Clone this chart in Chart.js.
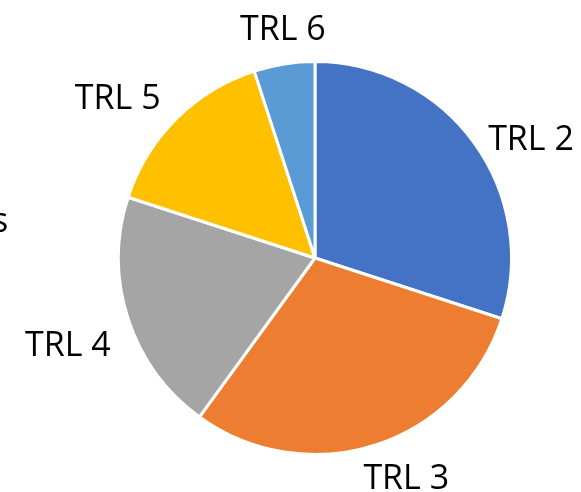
<!DOCTYPE html>
<html>
<head>
<meta charset="utf-8">
<script src="https://cdn.jsdelivr.net/npm/chart.js@4/dist/chart.umd.min.js"></script>
<style>
  html, body { margin: 0; padding: 0; background: #ffffff; }
  #wrap { width: 581px; height: 492px; position: relative; }
</style>
</head>
<body>
<div id="wrap"><canvas id="chart"></canvas></div>
<script>
// Data (share of each slice, %)
const labels = ['TRL 2', 'TRL 3', 'TRL 4', 'TRL 5', 'TRL 6'];
const values = [30, 30, 20, 15, 5];
const colors = ['#4472C4', '#ED7D31', '#A5A5A5', '#FFC000', '#5B9BD5'];
// partly clipped text at the left edge of the picture
const edgeText = 's';

const labelFont = '34px "Open Sans", sans-serif';

// Draw category labels outside the end of each slice
const outsideLabels = {
    id: 'outsideLabels',
    afterDatasetsDraw(chart, args, opts) {
        const ctx = chart.ctx;
        const meta = chart.getDatasetMeta(0);
        const nudge = opts.nudge || [];
        ctx.save();
        ctx.font = labelFont;
        ctx.fillStyle = '#000000';
        ctx.textAlign = 'center';
        ctx.textBaseline = 'middle';
        meta.data.forEach((arc, i) => {
            const { x, y, startAngle, endAngle, outerRadius } = arc.getProps(['x', 'y', 'startAngle', 'endAngle', 'outerRadius'], true);
            const mid = (startAngle + endAngle) / 2;
            const w = ctx.measureText(labels[i]).width;
            const h = 28;
            const cos = Math.cos(mid), sin = Math.sin(mid);
            const d = outerRadius + 14 + Math.abs(cos) * w / 2 + Math.abs(sin) * h / 2;
            const [dx, dy] = nudge[i] || [0, 0];
            ctx.fillText(labels[i], x + cos * d + dx, y + sin * d + dy);
        });
        // clipped text on the left edge
        ctx.textAlign = 'left';
        ctx.fillText(edgeText, -8, 222);
        ctx.restore();
    }
};

new Chart(document.getElementById('chart'), {
    type: 'pie',
    data: {
        labels: labels,
        datasets: [{
            data: values,
            backgroundColor: colors,
            borderColor: '#ffffff',
            borderWidth: 3,
            hoverOffset: 0
        }]
    },
    options: {
        responsive: true,
        maintainAspectRatio: false,
        animation: false,
        layout: {
            padding: { left: 117, right: 68, top: 60, bottom: 36 }
        },
        plugins: {
            legend: { display: false },
            tooltip: { enabled: false },
            outsideLabels: {
                // hand placement of the labels, as in the original
                nudge: [[11, 31], [18, -4], [-4, 9], [-20, 19], [4, 1]]
            }
        }
    },
    plugins: [outsideLabels]
});
</script>
</body>
</html>
